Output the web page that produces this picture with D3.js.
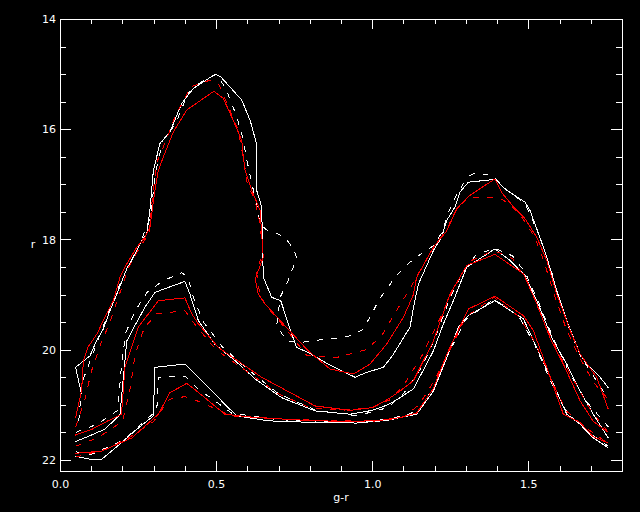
<!DOCTYPE html>
<html>
<head>
<meta charset="utf-8">
<script src="https://cdn.jsdelivr.net/npm/d3@7"></script>
<style>
  body { margin: 0; background: #000; }
  svg { display: block; background: #000; }
  .axis text { fill: #fff; font-family: "DejaVu Sans", sans-serif; font-size: 11px; }
  .axis path, .axis line { stroke: #fff; shape-rendering: crispEdges; }
</style>
</head>
<body>
<svg></svg>
<script>
const width = 640;
const height = 512;
const margin = { left: 60, right: 18, top: 19, bottom: 41 };

const xMajor = [0.0, 0.5, 1.0, 1.5];
const xMinor = [0.1, 0.2, 0.3, 0.4, 0.6, 0.7, 0.8, 0.9, 1.1, 1.2, 1.3, 1.4, 1.6, 1.7];
const yMajor = [14, 16, 18, 20, 22];
const yMinor = [14.5, 15, 15.5, 16.5, 17, 17.5, 18.5, 19, 19.5, 20.5, 21, 21.5, 22];

// outer contour level (g-r, r)
const outerWhite = [[0.069,20.8],[0.05,20.32],[0.096,20.11],[0.117,19.84],[0.139,19.62],[0.16,19.29],[0.182,18.99],[0.214,18.53],[0.246,18.2],[0.262,18.02],[0.278,17.9],[0.288,17.47],[0.299,16.75],[0.32,16.26],[0.352,16.05],[0.39,15.53],[0.427,15.26],[0.497,15.0],[0.515,15.05],[0.582,15.47],[0.609,15.84],[0.628,16.23],[0.63,17.11],[0.646,17.41],[0.651,18.68],[0.678,19.05],[0.707,19.11],[0.742,19.71],[0.758,19.96],[0.795,20.05],[0.859,20.26],[0.945,20.5],[0.982,20.41],[1.036,20.32],[1.068,20.08],[1.121,19.59],[1.135,19.15],[1.148,18.81],[1.196,18.2],[1.222,17.96],[1.239,17.65],[1.265,17.41],[1.281,17.14],[1.308,16.96],[1.393,16.91],[1.431,17.11],[1.489,17.32],[1.505,17.47],[1.537,17.96],[1.559,18.32],[1.591,18.93],[1.623,19.47],[1.666,20.08],[1.687,20.26],[1.73,20.5],[1.756,20.69]];
const outerWhiteDash = [[0.06,21.3],[0.07,20.6],[0.11,20.0],[0.15,19.4],[0.2,18.7],[0.25,18.15],[0.29,17.6],[0.305,16.8],[0.33,16.2],[0.37,15.9],[0.41,15.35],[0.45,15.15],[0.5,15.0],[0.53,15.25],[0.565,15.75],[0.585,16.15],[0.6,16.6],[0.615,17.0],[0.63,17.35],[0.64,17.7],[0.66,17.82],[0.69,17.88],[0.72,17.96],[0.745,18.15],[0.758,18.32],[0.747,18.5],[0.726,18.81],[0.705,19.05],[0.699,19.35],[0.694,19.56],[0.726,19.84],[0.77,19.87],[0.833,19.82],[0.88,19.8],[0.923,19.76],[0.966,19.65],[0.993,19.41],[1.02,19.11],[1.046,18.9],[1.078,18.65],[1.121,18.41],[1.164,18.23],[1.2,18.1],[1.225,17.85],[1.245,17.5],[1.265,17.25],[1.29,17.0],[1.31,16.85],[1.324,16.81],[1.36,16.82],[1.388,16.85],[1.43,17.1],[1.49,17.35],[1.51,17.6],[1.54,18.0],[1.57,18.5],[1.6,19.1],[1.63,19.6],[1.67,20.15],[1.7,20.4],[1.756,20.9]];
const outerRed = [[0.05,21.23],[0.069,20.75],[0.075,20.2],[0.09,19.95],[0.12,19.7],[0.14,19.45],[0.171,19.11],[0.192,18.69],[0.214,18.44],[0.246,18.14],[0.272,17.96],[0.288,17.78],[0.304,17.11],[0.315,16.75],[0.331,16.5],[0.363,16.05],[0.406,15.65],[0.493,15.31],[0.523,15.44],[0.555,15.84],[0.582,16.2],[0.587,16.5],[0.593,16.75],[0.614,17.11],[0.641,17.47],[0.646,17.9],[0.651,18.32],[0.625,18.72],[0.635,18.99],[0.657,19.17],[0.705,19.47],[0.795,20.02],[0.865,20.35],[0.94,20.44],[0.993,20.26],[1.046,19.9],[1.1,19.41],[1.132,19.0],[1.142,18.69],[1.196,18.14],[1.239,17.84],[1.271,17.44],[1.308,17.22],[1.393,16.9],[1.415,17.15],[1.457,17.44],[1.489,17.62],[1.527,17.96],[1.559,18.38],[1.591,18.99],[1.634,19.65],[1.666,20.08],[1.719,20.5],[1.756,21.08]];
const outerRedDash = [[0.05,21.4],[0.08,20.9],[0.1,20.4],[0.13,19.9],[0.16,19.5],[0.19,19.0],[0.22,18.5],[0.26,18.1],[0.285,17.9],[0.295,17.3],[0.31,16.6],[0.34,16.2],[0.37,15.75],[0.42,15.23],[0.48,15.11],[0.51,15.2],[0.54,15.6],[0.57,16.0],[0.59,16.6],[0.6,17.0],[0.625,17.3],[0.64,17.7],[0.65,18.2],[0.63,18.6],[0.64,19.0],[0.66,19.2],[0.72,19.6],[0.79,20.1],[0.88,20.15],[0.98,20.0],[1.03,19.75],[1.068,19.38],[1.12,18.9],[1.14,18.7],[1.19,18.2],[1.24,17.8],[1.27,17.45],[1.31,17.23],[1.4,17.23],[1.44,17.35],[1.48,17.6],[1.52,17.95],[1.55,18.4],[1.58,18.95],[1.62,19.6],[1.66,20.1],[1.71,20.6],[1.756,20.9]];

// middle contour level
const midWhite = [[0.048,21.67],[0.1,21.55],[0.144,21.44],[0.192,21.18],[0.203,20.5],[0.214,19.84],[0.24,19.56],[0.272,19.23],[0.304,18.96],[0.4,18.76],[0.416,18.99],[0.443,19.47],[0.496,19.9],[0.561,20.2],[0.625,20.53],[0.71,20.87],[0.817,21.11],[0.93,21.17],[1.0,21.1],[1.05,21.0],[1.089,20.87],[1.132,20.71],[1.196,20.02],[1.228,19.53],[1.26,19.11],[1.303,18.5],[1.393,18.17],[1.441,18.38],[1.489,18.65],[1.527,19.11],[1.58,19.84],[1.623,20.26],[1.666,20.75],[1.708,21.17],[1.756,21.6]];
const midWhiteDash = [[0.05,21.5],[0.12,21.35],[0.185,21.1],[0.195,20.4],[0.21,19.7],[0.24,19.3],[0.28,18.95],[0.33,18.75],[0.39,18.6],[0.41,18.7],[0.43,19.1],[0.46,19.5],[0.52,19.95],[0.6,20.35],[0.7,20.8],[0.82,21.1],[0.95,21.2],[1.05,21.05],[1.1,20.8],[1.16,20.3],[1.2,19.8],[1.25,19.05],[1.29,18.6],[1.33,18.3],[1.39,18.15],[1.45,18.3],[1.49,18.6],[1.53,19.1],[1.58,19.8],[1.63,20.4],[1.68,20.9],[1.756,21.4]];
const midRed = [[0.048,21.55],[0.1,21.45],[0.15,21.3],[0.197,21.17],[0.208,20.32],[0.251,19.59],[0.315,19.11],[0.4,19.06],[0.422,19.35],[0.443,19.53],[0.507,19.96],[0.646,20.5],[0.817,21.02],[0.93,21.1],[1.0,21.05],[1.05,20.9],[1.089,20.75],[1.132,20.56],[1.196,19.84],[1.249,18.99],[1.303,18.47],[1.393,18.27],[1.484,18.62],[1.527,19.16],[1.569,19.78],[1.612,20.26],[1.666,20.93],[1.708,21.3],[1.756,21.5]];
const midRedDash = [[0.05,21.75],[0.12,21.6],[0.2,21.3],[0.225,20.7],[0.24,20.1],[0.27,19.6],[0.31,19.35],[0.4,19.29],[0.44,19.6],[0.5,20.0],[0.6,20.4],[0.7,20.8],[0.8,21.05],[0.9,21.1],[1.0,21.05],[1.06,20.9],[1.1,20.65],[1.16,20.1],[1.22,19.4],[1.26,18.9],[1.31,18.4],[1.39,18.2],[1.45,18.35],[1.5,18.8],[1.55,19.5],[1.6,20.1],[1.65,20.6],[1.7,21.1],[1.756,21.5]];

// inner contour level
const lowWhite = [[0.048,21.93],[0.1,21.99],[0.133,21.99],[0.192,21.71],[0.24,21.47],[0.299,21.2],[0.304,20.32],[0.4,20.26],[0.432,20.44],[0.539,21.05],[0.566,21.2],[0.667,21.29],[0.817,21.32],[0.95,21.33],[1.05,21.28],[1.089,21.23],[1.142,21.17],[1.196,20.75],[1.239,20.14],[1.276,19.59],[1.308,19.38],[1.393,19.11],[1.484,19.44],[1.527,19.96],[1.58,20.62],[1.623,21.17],[1.666,21.35],[1.708,21.6],[1.756,21.78]];
const lowWhiteDash = [[0.05,21.85],[0.1,21.9],[0.2,21.65],[0.26,21.35],[0.31,21.1],[0.315,20.5],[0.4,20.48],[0.44,20.7],[0.55,21.15],[0.7,21.27],[0.85,21.3],[1.0,21.3],[1.1,21.2],[1.15,21.1],[1.2,20.65],[1.25,20.0],[1.3,19.45],[1.39,19.08],[1.47,19.4],[1.52,19.9],[1.57,20.55],[1.62,21.1],[1.68,21.45],[1.756,21.75]];
const lowRed = [[0.048,21.88],[0.133,21.84],[0.23,21.6],[0.315,21.17],[0.352,20.78],[0.406,20.61],[0.438,20.75],[0.528,21.17],[0.625,21.23],[0.817,21.29],[0.95,21.3],[1.05,21.27],[1.089,21.23],[1.142,21.15],[1.196,20.7],[1.239,20.08],[1.308,19.26],[1.393,19.03],[1.484,19.38],[1.516,19.65],[1.559,20.32],[1.612,21.17],[1.666,21.32],[1.708,21.58],[1.756,21.69]];
const lowRedDash = [[0.05,21.95],[0.15,21.8],[0.22,21.6],[0.3,21.3],[0.35,20.9],[0.4,20.85],[0.45,20.95],[0.55,21.2],[0.7,21.25],[0.85,21.28],[1.0,21.3],[1.1,21.22],[1.15,21.0],[1.2,20.55],[1.25,20.0],[1.3,19.4],[1.39,19.05],[1.47,19.4],[1.52,19.85],[1.57,20.5],[1.62,21.1],[1.68,21.4],[1.756,21.7]];

const svg = d3.select("svg").attr("width", width).attr("height", height);

const xScale = d3.scaleLinear().domain([0, 1.8]).range([margin.left, width - margin.right]);
const yScale = d3.scaleLinear().domain([14, 22.2]).range([margin.top, height - margin.bottom]);

const line = d3.line().x(d => xScale(d[0])).y(d => yScale(d[1]));

const curves = [
  { data: outerWhite, color: "#fff", dash: null },
  { data: midWhite, color: "#fff", dash: null },
  { data: lowWhite, color: "#fff", dash: null },
  { data: outerWhiteDash, color: "#fff", dash: "6,8" },
  { data: midWhiteDash, color: "#fff", dash: "6,8" },
  { data: lowWhiteDash, color: "#fff", dash: "6,8" },
  { data: outerRed, color: "#f00", dash: null },
  { data: midRed, color: "#f00", dash: null },
  { data: lowRed, color: "#f00", dash: null },
  { data: outerRedDash, color: "#f00", dash: "6,8" },
  { data: midRedDash, color: "#f00", dash: "6,8" },
  { data: lowRedDash, color: "#f00", dash: "6,8" }
];

svg.append("g")
  .selectAll("path")
  .data(curves)
  .join("path")
  .attr("d", d => line(d.data))
  .attr("fill", "none")
  .attr("stroke", d => d.color)
  .attr("stroke-width", 1)
  .attr("stroke-dasharray", d => d.dash)
  .attr("shape-rendering", "crispEdges");

const x0 = margin.left, x1 = width - margin.right;
const y0 = margin.top, y1 = height - margin.bottom;

// bottom axis with labels, top axis without
svg.append("g").attr("class", "axis").attr("transform", "translate(0," + y1 + ")")
  .call(d3.axisBottom(xScale).tickValues(xMajor).tickSizeInner(-10).tickSizeOuter(0).tickPadding(9).tickFormat(d3.format(".1f")));
svg.append("g").attr("class", "axis").attr("transform", "translate(0," + y1 + ")")
  .call(d3.axisBottom(xScale).tickValues(xMinor).tickSizeInner(-5).tickSizeOuter(0).tickFormat(""));
svg.append("g").attr("class", "axis").attr("transform", "translate(0," + y0 + ")")
  .call(d3.axisTop(xScale).tickValues(xMajor).tickSizeInner(-10).tickSizeOuter(0).tickFormat(""));
svg.append("g").attr("class", "axis").attr("transform", "translate(0," + y0 + ")")
  .call(d3.axisTop(xScale).tickValues(xMinor).tickSizeInner(-5).tickSizeOuter(0).tickFormat(""));

svg.append("g").attr("class", "axis").attr("transform", "translate(" + x0 + ",0)")
  .call(d3.axisLeft(yScale).tickValues(yMajor).tickSizeInner(-11).tickSizeOuter(0).tickPadding(4).tickFormat(d3.format("d")));
svg.append("g").attr("class", "axis").attr("transform", "translate(" + x0 + ",0)")
  .call(d3.axisLeft(yScale).tickValues(yMinor).tickSizeInner(-6).tickSizeOuter(0).tickFormat(""));
svg.append("g").attr("class", "axis").attr("transform", "translate(" + x1 + ",0)")
  .call(d3.axisRight(yScale).tickValues(yMajor).tickSizeInner(-11).tickSizeOuter(0).tickFormat(""));
svg.append("g").attr("class", "axis").attr("transform", "translate(" + x1 + ",0)")
  .call(d3.axisRight(yScale).tickValues(yMinor).tickSizeInner(-6).tickSizeOuter(0).tickFormat(""));

// frame
svg.append("rect")
  .attr("x", x0).attr("y", y0)
  .attr("width", x1 - x0).attr("height", y1 - y0)
  .attr("fill", "none").attr("stroke", "#fff")
  .attr("shape-rendering", "crispEdges");

svg.append("text")
  .attr("x", (x0 + x1) / 2).attr("y", 501)
  .attr("text-anchor", "middle")
  .attr("fill", "#fff")
  .style("font-family", "DejaVu Sans, sans-serif").style("font-size", "11px")
  .text("g-r");

svg.append("text")
  .attr("x", 33).attr("y", 248)
  .attr("text-anchor", "middle")
  .attr("fill", "#fff")
  .style("font-family", "DejaVu Sans, sans-serif").style("font-size", "11px")
  .text("r");
</script>
</body>
</html>
